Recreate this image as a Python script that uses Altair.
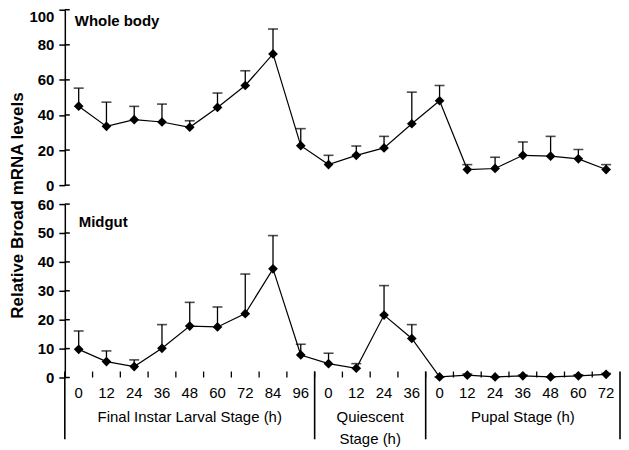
import altair as alt
import pandas as pd

# ---- data ----
hours = ["0", "12", "24", "36", "48", "60", "72", "84", "96",
         "0", "12", "24", "36",
         "0", "12", "24", "36", "48", "60", "72"]
stage_names = ["Final Instar Larval Stage (h)", "Quiescent\nStage (h)", "Pupal Stage (h)"]
stage_counts = [9, 4, 7]
panel_titles = ["Whole body", "Midgut"]
whole_ticks = [0, 20, 40, 60, 80, 100]
midgut_ticks = [0, 10, 20, 30, 40, 50, 60]

whole_mean = [45, 33.5, 37.3, 36, 33, 44.3, 56.8, 74.8, 22.5,
              11.7, 17, 21.2, 35,
              48.1, 8.9, 9.5, 17, 16.5, 15, 8.9]
whole_upper = [55.3, 47.3, 44.9, 46.2, 36.7, 52.5, 65.2, 89, 32.2,
               17, 22.3, 27.8, 53,
               56.8, 11.7, 15.9, 24.6, 27.8, 20.3, 11.7]
midgut_mean = [9.75, 5.5, 3.8, 10.1, 17.8, 17.5, 22.1, 37.6, 7.8,
               4.8, 3.2, 21.6, 13.5,
               0.2, 0.8, 0.2, 0.6, 0.2, 0.6, 1.1]
midgut_upper = [16.1, 9.2, 6.1, 18.3, 26, 24.4, 35.8, 49.1, 11.5,
                8.4, 4.8, 31.8, 18.3,
                0.2, 1.2, 0.2, 0.8, 0.2, 0.9, 1.4]

# ---- tables ----
n = len(hours)
df = pd.DataFrame({
    "pos": [i + 0.5 for i in range(n)],
    "hour": hours,
    "wm": whole_mean, "wu": whole_upper,
    "mm": midgut_mean, "mu": midgut_upper,
})
edges = [0]
for c in stage_counts:
    edges.append(edges[-1] + c)
stage_df = pd.DataFrame({
    "name": stage_names,
    "center": [(edges[i] + edges[i + 1]) / 2 for i in range(len(stage_counts))],
})
divider_df = pd.DataFrame({"b": edges})
tick_df = pd.DataFrame({"b": list(range(1, n))})

FONT = "Liberation Sans"
W = 557
H1 = 176
H2 = 174
BLACK = "#000000"

xscale = alt.Scale(domain=[0, n], nice=False, zero=False)


def axis_y(values, title=None, top_cond=False, titleY=None):
    kw = dict(
        values=values, grid=False, tickSize=6, tickWidth=1.5, tickColor=BLACK,
        domainColor=BLACK, domainWidth=1.5, labelColor=BLACK, labelFont=FONT,
        labelFontSize=15, labelFontWeight="bold", labelPadding=5,
    )
    if title:
        kw.update(title=title, titleFont=FONT, titleFontSize=17, titleFontWeight="bold",
                  titleColor=BLACK, titlePadding=2)
        if titleY is not None:
            kw["titleY"] = titleY
    else:
        kw["title"] = None
    if top_cond:
        kw["labelBaseline"] = {"condition": {"test": f"datum.value == {values[-1]}", "value": "top"},
                               "value": "middle"}
    return alt.Axis(**kw)


def panel(mean_f, up_f, ymax, tick_vals, title_text, title_x, title_y, yaxis, x_axis):
    ysc = alt.Scale(domain=[0, ymax], nice=False)
    base = alt.Chart(df)
    line = base.mark_line(color=BLACK, strokeWidth=1.2).encode(
        x=alt.X("pos:Q", scale=xscale, axis=x_axis),
        y=alt.Y(f"{mean_f}:Q", scale=ysc, axis=yaxis))
    err = base.mark_rule(color=BLACK, strokeWidth=1.3).encode(
        x=alt.X("pos:Q", scale=xscale, axis=x_axis),
        y=alt.Y(f"{mean_f}:Q", scale=ysc, axis=yaxis), y2=f"{up_f}:Q")
    cap = base.mark_tick(color=BLACK, orient="horizontal", size=10, thickness=1.6).encode(
        x=alt.X("pos:Q", scale=xscale, axis=x_axis),
        y=alt.Y(f"{up_f}:Q", scale=ysc, axis=yaxis))
    pts = base.mark_point(shape="diamond", filled=True, color=BLACK, size=95, opacity=1).encode(
        x=alt.X("pos:Q", scale=xscale, axis=x_axis),
        y=alt.Y(f"{mean_f}:Q", scale=ysc, axis=yaxis))
    # inner halves of the crossing y ticks
    inner = alt.Chart(pd.DataFrame({"v": tick_vals})).mark_rule(color=BLACK, strokeWidth=1.5).encode(
        x=alt.value(0), x2=alt.value(5),
        y=alt.Y("v:Q", scale=ysc, axis=yaxis))
    lab = alt.Chart(pd.DataFrame({"t": [title_text]})).mark_text(
        font=FONT, fontSize=15, fontWeight="bold", align="left", baseline="middle", color=BLACK
    ).encode(text="t:N", x=alt.value(title_x), y=alt.value(title_y))
    return [line, err, cap, pts, inner, lab]


top_layers = panel("wm", "wu", 100, whole_ticks, panel_titles[0], 10, 11,
                   axis_y(whole_ticks, "Relative Broad mRNA levels", True, 196),
                   None)
top = alt.layer(*top_layers).properties(width=W, height=H1)

x_axis_bottom = alt.Axis(domain=True, domainColor=BLACK, domainWidth=1.5, ticks=False,
                         labels=False, grid=False, title=None)
bottom_layers = panel("mm", "mu", 60, midgut_ticks, panel_titles[1], 14, 18,
                      axis_y(midgut_ticks, None, False),
                      x_axis_bottom)

hour_labels = alt.Chart(df).mark_text(
    font=FONT, fontSize=15, align="center", baseline="middle", color=BLACK
).encode(x=alt.X("pos:Q", scale=xscale, axis=None), y=alt.value(H2 + 16), text="hour:N")

ticks = alt.Chart(tick_df).mark_rule(color=BLACK, strokeWidth=1.3).encode(
    x=alt.X("b:Q", scale=xscale, axis=None), y=alt.value(H2 - 6), y2=alt.value(H2))

dividers = alt.Chart(divider_df).mark_rule(color=BLACK, strokeWidth=1.6).encode(
    x=alt.X("b:Q", scale=xscale, axis=None), y=alt.value(H2 - 6), y2=alt.value(H2 + 62))

stage_labels = alt.Chart(stage_df).mark_text(
    font=FONT, fontSize=15, align="center", baseline="alphabetic", lineBreak="\n", lineHeight=22,
    color=BLACK
).encode(x=alt.X("center:Q", scale=xscale, axis=None), y=alt.value(H2 + 45), text="name:N")

bottom = alt.layer(*bottom_layers, ticks, dividers, hour_labels, stage_labels).properties(
    width=W, height=H2)

chart = alt.vconcat(top, bottom, spacing=19, bounds="flush").properties(
    padding={"left": 0, "top": 0, "right": 0, "bottom": 0}, background="white"
).configure_view(stroke=None)

chart.save("out.html", embed_options={"renderer": "svg", "actions": False})
